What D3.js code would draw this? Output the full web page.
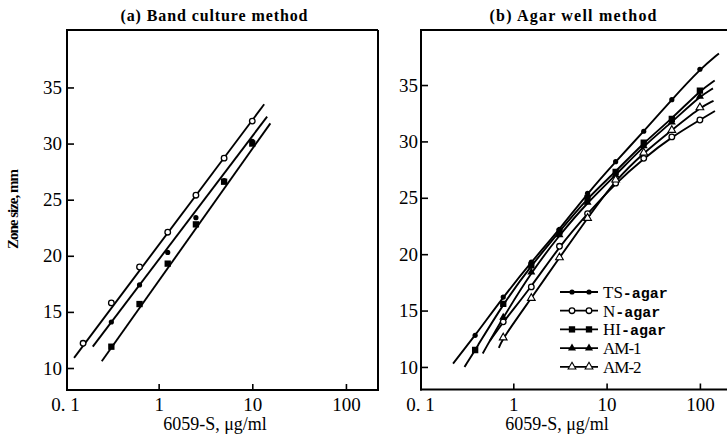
<!DOCTYPE html>
<html><head><meta charset="utf-8">
<script src="https://cdn.jsdelivr.net/npm/d3@7"></script>
<style>body{margin:0;background:#fff}svg{display:block}</style>
</head><body><svg id="c" width="727" height="438"></svg>
<script>
// ---------- data ----------
const seriesNames = ["TS-agar", "N-agar", "HI-agar", "AM-1", "AM-2"];
const seriesMarkers = ["dot", "ring", "square", "tri", "otri"];

const concLeft = [0.156, 0.3125, 0.625, 1.25, 2.5, 5, 10];
const leftTS = [null, 14.1, 17.4, 20.3, 23.4, 26.7, 30.2];
const leftN  = [12.2, 15.8, 19.0, 22.1, 25.4, 28.7, 32.0];
const leftHI = [null, 11.9, 15.7, 19.3, 22.8, 26.6, 30.0];
// fitted regression line end points [conc, zone]
const leftFitTS = [[0.198, 11.9], [14.4, 32.4]];
const leftFitN  = [[0.125, 10.9], [13.4, 33.5]];
const leftFitHI = [[0.247, 10.6], [15.6, 31.8]];

const concRight = [0.39, 0.78, 1.56, 3.125, 6.25, 12.5, 25, 50, 100];
const rightTS  = [12.8, 16.2, 19.3, 22.2, 25.4, 28.2, 30.9, 33.7, 36.4];
const rightN   = [null, 14.0, 17.1, 20.7, 23.6, 26.3, 28.5, 30.4, 31.9];
const rightHI  = [11.5, 15.6, 19.0, 22.0, 25.0, 27.3, 29.9, 32.0, 34.5];
const rightAM1 = [null, 14.4, 18.4, 21.7, 24.6, 27.0, 29.6, 31.7, 34.0];
const rightAM2 = [null, 12.6, 16.1, 19.7, 23.2, 26.6, 29.0, 31.0, 33.0];
const rightFitTS  = [[0.226, 10.3], [160, 37.8]];
const rightFitN   = [[0.56, 12.3], [145, 32.7]];
const rightFitHI  = [[0.30, 10.0], [144, 35.4]];
const rightFitAM1 = [[0.47, 11.2], [138, 34.7]];
const rightFitAM2 = [[0.70, 11.7], [140, 33.6]];

const xTickValues = [0.1, 1, 10, 100];
const xTickLabels = ["0. 1", "1", "10", "100"];
const yTickValues = [10, 15, 20, 25, 30, 35];

const titles = ["(a)  Band culture method", "(b)  Agar well method"];
const xTitle = "6059-S,  \u03bcg/ml";
const yTitle = "Zone size, mm";

// ---------- layout ----------
const svg = d3.select("#c");
svg.append("rect").attr("width", 727).attr("height", 438).attr("fill", "#fff");

const panels = [
  { title: titles[0], xr: [65, 378], xd: [0.1, 220], yr: [390, 30], yd: [8.04, 40.12],
    frame: { l: 67, r: 378, t: 30, b: 390, closed: true }, ylabPad: 5, titleX: 214, titleW: 187, xlabX: 215,
    series: [
      { name: 0, vals: leftTS, fit: leftFitTS, curve: false },
      { name: 1, vals: leftN,  fit: leftFitN,  curve: false },
      { name: 2, vals: leftHI, fit: leftFitHI, curve: false }
    ], conc: concLeft },
  { title: titles[1], xr: [420, 420 + 93.3 * Math.log10(2100)], xd: [0.1, 210], yr: [389.5, 30], yd: [8.0, 39.88],
    frame: { l: 421, r: 740, t: 30, b: 389.5, closed: false }, ylabPad: 3, titleX: 573, titleW: 167, xlabX: 557,
    series: [
      { name: 0, vals: rightTS,  fit: rightFitTS,  curve: true },
      { name: 1, vals: rightN,   fit: rightFitN,   curve: true },
      { name: 2, vals: rightHI,  fit: rightFitHI,  curve: true },
      { name: 3, vals: rightAM1, fit: rightFitAM1, curve: true },
      { name: 4, vals: rightAM2, fit: rightFitAM2, curve: true }
    ], conc: concRight }
];

const SERIF = "'Liberation Serif', 'DejaVu Serif', serif";
const MONO = "'Liberation Mono', 'DejaVu Sans Mono', monospace";

function drawMarker(g, type, cx, cy) {
  if (type === "dot") {
    g.append("circle").attr("cx", cx).attr("cy", cy).attr("r", 2.6).attr("fill", "#000");
  } else if (type === "ring") {
    g.append("circle").attr("cx", cx).attr("cy", cy).attr("r", 2.8)
      .attr("fill", "#fff").attr("stroke", "#000").attr("stroke-width", 1.3);
  } else if (type === "square") {
    g.append("path").attr("transform", `translate(${cx},${cy})`)
      .attr("d", d3.symbol(d3.symbolSquare, 40)()).attr("fill", "#000");
  } else if (type === "tri") {
    g.append("path").attr("transform", `translate(${cx},${cy})`)
      .attr("d", d3.symbol(d3.symbolTriangle, 28)()).attr("fill", "#000");
  } else if (type === "otri") {
    g.append("path").attr("transform", `translate(${cx},${cy})`)
      .attr("d", d3.symbol(d3.symbolTriangle, 26)()).attr("fill", "#fff")
      .attr("stroke", "#000").attr("stroke-width", 1.1);
  }
}

panels.forEach(p => {
  const x = d3.scaleLog().domain(p.xd).range(p.xr);
  const y = d3.scaleLinear().domain(p.yd).range(p.yr);
  const g = svg.append("g");
  const clipId = "clip" + p.frame.l;
  svg.append("clipPath").attr("id", clipId).append("rect")
    .attr("x", p.frame.l).attr("y", p.frame.t)
    .attr("width", Math.min(p.frame.r, 727) - p.frame.l).attr("height", p.frame.b - p.frame.t);

  // title
  svg.append("text").attr("x", p.titleX).attr("y", 21).attr("text-anchor", "middle")
    .attr("font-family", SERIF).attr("font-weight", "bold").attr("font-size", 16)
    .attr("textLength", p.titleW).attr("lengthAdjust", "spacing").text(p.title);

  // axes (ticks inward)
  const xa = d3.axisBottom(x).tickValues(xTickValues)
    .tickFormat((d, i) => xTickLabels[i]).tickSize(-6).tickPadding(8).tickSizeOuter(0);
  const gx = g.append("g").attr("transform", `translate(0,${p.frame.b})`).call(xa);
  const ya = d3.axisLeft(y).tickValues(yTickValues).tickSize(-7).tickPadding(p.ylabPad).tickSizeOuter(0);
  const gy = g.append("g").attr("transform", `translate(${p.frame.l},0)`).call(ya);
  [gx, gy].forEach(a => {
    a.select(".domain").remove();
    a.selectAll(".tick line").attr("stroke", "#000").attr("stroke-width", 1.6);
    a.selectAll(".tick text").attr("font-family", SERIF).attr("font-size", 19).attr("fill", "#000");
  });
  gx.selectAll(".tick").filter(d => d === 0.1).select("line").remove();

  // frame
  const f = p.frame;
  const fr = g.append("g").attr("stroke", "#000").attr("stroke-width", 2).attr("fill", "none");
  fr.append("line").attr("x1", f.l).attr("x2", f.l).attr("y1", f.t).attr("y2", f.b + 1);
  fr.append("line").attr("x1", f.l - 1).attr("x2", f.r).attr("y1", f.b).attr("y2", f.b);
  fr.append("line").attr("x1", f.l - 1).attr("x2", f.r).attr("y1", f.t).attr("y2", f.t);
  if (f.closed) fr.append("line").attr("x1", f.r).attr("x2", f.r).attr("y1", f.t).attr("y2", f.b + 1);

  // x title
  svg.append("text").attr("x", p.xlabX).attr("y", 430).attr("text-anchor", "middle")
    .attr("font-family", SERIF).attr("font-size", 18).text(xTitle);

  // series
  const plot = g.append("g").attr("clip-path", `url(#${clipId})`);
  p.series.forEach(s => {
    const pts = p.conc.map((c, i) => [c, s.vals[i]]).filter(d => d[1] != null);
    const path = s.curve ? [s.fit[0], ...pts, s.fit[1]] : [s.fit[0], s.fit[1]];
    const line = d3.line().x(d => x(d[0])).y(d => y(d[1]))
      .curve(s.curve ? d3.curveBasis : d3.curveLinear);
    plot.append("path").attr("d", line(path)).attr("fill", "none")
      .attr("stroke", "#000").attr("stroke-width", 1.9);
  });
  p.series.forEach(s => {
    const mg = plot.append("g");
    p.conc.forEach((c, i) => {
      if (s.vals[i] == null) return;
      drawMarker(mg, seriesMarkers[s.name], x(c), y(s.vals[i]));
    });
  });
});

// y title
svg.append("text").attr("transform", "translate(18,209) rotate(-90)").attr("text-anchor", "middle")
  .attr("font-family", SERIF).attr("font-weight", "bold").attr("font-size", 15)
  .attr("textLength", 80).attr("lengthAdjust", "spacing").text(yTitle);

// legend
const lg = svg.append("g");
seriesNames.forEach((name, i) => {
  const yy = 292 + i * 18.7;
  lg.append("line").attr("x1", 560).attr("x2", 598).attr("y1", yy).attr("y2", yy)
    .attr("stroke", "#000").attr("stroke-width", 1.8);
  drawMarker(lg, seriesMarkers[i], 572, yy);
  drawMarker(lg, seriesMarkers[i], 589, yy);
  const t = lg.append("text").attr("x", 603).attr("y", yy + 6)
    .attr("font-family", SERIF).attr("font-size", 17);
  const m = name.match(/^([A-Z]+)(-[a-z]+)$/);
  if (m) {
    t.append("tspan").text(m[1]);
    t.append("tspan").attr("font-family", MONO).attr("font-weight", "bold").attr("font-size", 15).text(m[2]);
  } else {
    t.attr("letter-spacing", -1).text(name);
  }
});
</script>
</body></html>
